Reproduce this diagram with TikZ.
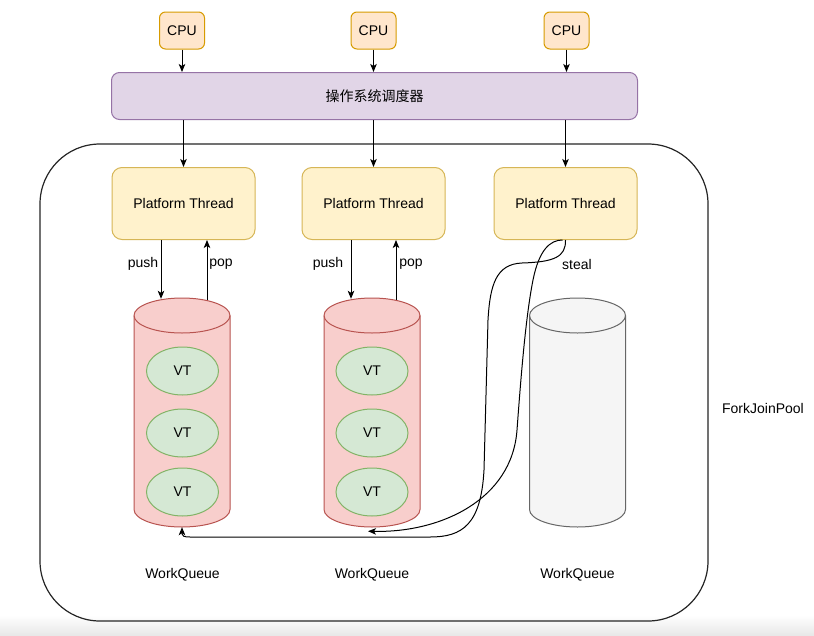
\documentclass[tikz,border=0pt]{standalone}
\usepackage{fontspec}
\setmainfont{Liberation Sans}
\newfontfamily\cjk{Noto Sans CJK SC}
\usetikzlibrary{arrows.meta,shapes.geometric}
\definecolor{cpuF}{HTML}{FFE6CC}
\definecolor{cpuD}{HTML}{D79B00}
\definecolor{schF}{HTML}{E1D5E7}
\definecolor{schD}{HTML}{9673A6}
\definecolor{thF}{HTML}{FFF2CC}
\definecolor{thD}{HTML}{D6B656}
\definecolor{rqF}{HTML}{F8CECC}
\definecolor{rqD}{HTML}{B85450}
\definecolor{gqF}{HTML}{F5F5F5}
\definecolor{gqD}{HTML}{666666}
\definecolor{vtF}{HTML}{D5E8D4}
\definecolor{vtD}{HTML}{82B366}
\newcommand\wqcyl[3]{%
  \filldraw[fill=#2,draw=#3,line width=1pt] (#1-48,-315.5) -- (#1-48,-509.5)
    arc[start angle=180,end angle=360,x radius=48,y radius=17.5] -- (#1+48,-315.5)
    arc[start angle=0,end angle=180,x radius=48,y radius=17.5] -- cycle;
  \draw[draw=#3,line width=1pt] (#1-48,-315.5) arc[start angle=180,end angle=360,x radius=48,y radius=17.5];}
\begin{document}
\begin{tikzpicture}[x=1pt,y=1pt,font=\fontsize{14}{16}\selectfont,
  cpubox/.style={draw=cpuD,fill=cpuF,line width=1pt,rounded corners=6pt,minimum width=45pt,minimum height=37pt,inner sep=0pt},
  schbox/.style={draw=schD,fill=schF,line width=1pt,rounded corners=8pt,minimum width=526pt,minimum height=47pt,inner sep=0pt},
  thbox/.style={draw=thD,fill=thF,line width=1pt,rounded corners=10pt,minimum width=143pt,minimum height=72pt,inner sep=0pt},
  vtnode/.style={ellipse,draw=vtD,fill=vtF,line width=1pt,minimum width=72pt,minimum height=48pt,inner sep=0pt},
  qarea/.style={minimum width=96pt,minimum height=229pt,inner sep=0pt},
  lbl/.style={inner sep=1pt},
  conn/.style={draw=black,line width=1pt,-{Stealth[length=8pt,width=6.5pt,inset=2pt]}}]
\useasboundingbox (0,0) rectangle (814,-635);
\fill[white] (0,0) rectangle (814,-635);
\shade[top color=white,bottom color=black!9] (0,-615) rectangle (814,-635);

% pool
\node[draw=black!85,line width=1.2pt,rounded corners=60pt,minimum width=668pt,minimum height=477pt,inner sep=0pt] (pool) at (374,-382.5) {};
\node[lbl] (fjp) at (763,-408) {ForkJoinPool};

% cpus and scheduler
\node[cpubox] (c1) at (182,-30.5) {CPU};
\node[cpubox] (c2) at (373.5,-30.5) {CPU};
\node[cpubox] (c3) at (566.5,-30.5) {CPU};
\node[schbox] (s) at (374.5,-96) {{\cjk 操作系统调度器}};

% threads
\node[thbox] (t1) at (183.5,-203.5) {Platform Thread};
\node[thbox] (t2) at (373.5,-203.5) {Platform Thread};
\node[thbox] (t3) at (565.5,-203.5) {Platform Thread};

% queues
\wqcyl{182}{rqF}{rqD}
\wqcyl{372}{rqF}{rqD}
\wqcyl{577.5}{gqF}{gqD}
\node[qarea] (q1) at (182,-412.5) {};
\node[qarea] (q2) at (372,-412.5) {};
\node[qarea] (q3) at (577.5,-412.5) {};

\node[vtnode] (v11) at (182.5,-371) {VT};
\node[vtnode] (v12) at (182.5,-433) {VT};
\node[vtnode] (v13) at (182.5,-492) {VT};
\node[vtnode] (v21) at (372,-371) {VT};
\node[vtnode] (v22) at (372,-433) {VT};
\node[vtnode] (v23) at (372,-492) {VT};

\node[lbl] (w1) at (182.5,-575) {WorkQueue};
\node[lbl] (w2) at (372,-575) {WorkQueue};
\node[lbl] (w3) at (577.5,-575) {WorkQueue};

% labels
\node[lbl] (pu1) at (143,-264) {push};
\node[lbl] (po1) at (221,-264) {pop};
\node[lbl] (pu2) at (328,-264) {push};
\node[lbl] (po2) at (411,-264) {pop};
\node[lbl] (st) at (577,-264) {steal};

% arrows
\foreach \c in {c1,c2,c3} \draw[conn] (\c.south) -- (\c.south |- s.north);
\foreach \t in {t1,t2,t3} \draw[conn] (s.south -| \t.north) -- (\t.north);

\draw[conn] ([xshift=-22.5pt]t1.south) -- ([xshift=-21pt,yshift=-1pt]q1.north);
\draw[conn] ([xshift=25pt,yshift=-2pt]q1.north) -- ([xshift=23.5pt]t1.south);
\draw[conn] ([xshift=-22.5pt]t2.south) -- ([xshift=-21pt,yshift=-1pt]q2.north);
\draw[conn] ([xshift=24pt,yshift=-2pt]q2.north) -- ([xshift=22.5pt]t2.south);

% steal curves
\draw[conn] (t3.south) .. controls (566,-257) and (554,-262) .. (522,-263)
  .. controls (496,-264) and (490,-285) .. (488,-320) -- (484,-470)
  .. controls (481,-525) and (462,-537) .. (430,-537) -- (190,-537)
  .. controls (184,-537) and (182,-536) .. (182,-534) -- (q1.south);
\draw[conn] ([xshift=-3pt]t3.south) .. controls (550,-240) and (539,-250) .. (533,-280)
  .. controls (525,-320) and (520,-390) .. (517,-430)
  .. controls (512,-500) and (440,-533) .. ([xshift=-4pt,yshift=-4pt]q2.south);
\end{tikzpicture}
\end{document}
